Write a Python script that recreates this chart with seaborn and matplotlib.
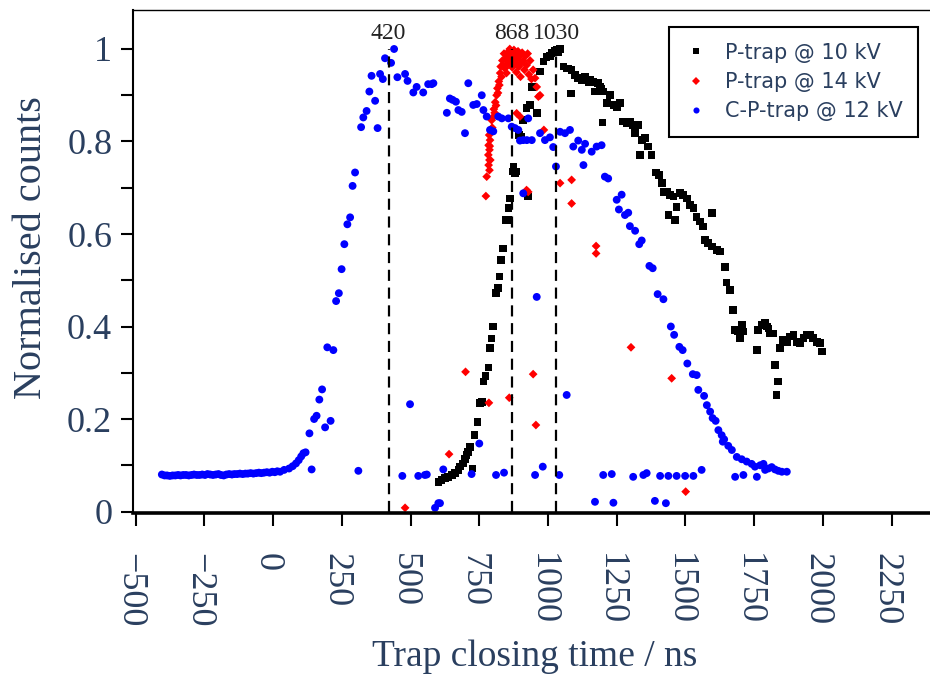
import matplotlib
matplotlib.use("Agg")
import matplotlib.pyplot as plt
from matplotlib.lines import Line2D
from matplotlib.transforms import ScaledTranslation
import pandas as pd
import seaborn as sns

# ---------------- data ----------------
series_names = ["P-trap @ 10 kV", "P-trap @ 14 kV", "C-P-trap @ 12 kV"]
series_colors = ["#000000", "#ff0000", "#0000ff"]
series_markers = ["s", "D", "o"]

ptrap10_t = [601, 613, 625, 637, 650, 662, 674, 680, 690, 698, 704, 710, 716, 726, 732, 744, 752, 759,
             765, 773, 783, 789, 795, 801, 811, 819, 823, 829, 837, 847, 855, 856, 862, 871, 874, 880,
             886, 895, 904, 910, 922, 934, 928, 941, 959, 971, 983, 995, 1007, 1013, 1025, 1032, 1037,
             1044, 1056, 1068, 1074, 1083, 1086, 1098, 1110, 1116, 1123, 1135, 1147, 1153, 1159, 1165,
             1171, 1183, 1189, 1195, 1199, 1201, 1214, 1226, 1238, 1250, 1262, 1274, 1286, 1298, 1310,
             1317, 1329, 1335, 1341, 1353, 1365, 1377, 1393, 1405, 1414, 1420, 1432, 1438, 1444, 1456,
             1462, 1468, 1480, 1492, 1505, 1517, 1529, 1541, 1553, 1565, 1571, 1583, 1596, 1596, 1614,
             1626, 1644, 1650, 1662, 1674, 1680, 1692, 1699, 1705, 1711, 1760, 1765, 1778, 1790, 1796,
             1802, 1808, 1814, 1820, 1826, 1832, 1838, 1844, 1856, 1869, 1881, 1893, 1905, 1917, 1929,
             1941, 1953, 1965, 1978, 1990, 1996]
ptrap10_y = [0.064, 0.068, 0.072, 0.075, 0.079, 0.083, 0.090, 0.097, 0.104, 0.113, 0.122, 0.129, 0.140,
             0.093, 0.165, 0.194, 0.235, 0.237, 0.281, 0.293, 0.311, 0.353, 0.374, 0.400, 0.472, 0.483,
             0.508, 0.544, 0.569, 0.630, 0.630, 0.656, 0.677, 0.735, 0.746, 0.731, 0.735, 0.814, 0.810,
             0.846, 0.872, 0.879, 0.681, 0.918, 0.861, 0.951, 0.973, 0.983, 0.985, 0.991, 0.996, 0.998,
             0.992, 1.000, 0.962, 0.958, 0.958, 0.904, 0.955, 0.944, 0.937, 0.937, 0.933, 0.940, 0.929,
             0.934, 0.929, 0.929, 0.908, 0.926, 0.918, 0.915, 0.841, 0.908, 0.883, 0.901, 0.879, 0.875,
             0.883, 0.843, 0.839, 0.843, 0.836, 0.818, 0.836, 0.771, 0.803, 0.807, 0.789, 0.771, 0.733,
             0.728, 0.710, 0.691, 0.691, 0.641, 0.684, 0.681, 0.630, 0.659, 0.688, 0.684, 0.677, 0.663,
             0.656, 0.637, 0.627, 0.616, 0.587, 0.580, 0.573, 0.645, 0.565, 0.562, 0.529, 0.495, 0.479,
             0.436, 0.392, 0.389, 0.374, 0.403, 0.389, 0.349, 0.392, 0.403, 0.407, 0.400, 0.396, 0.385,
             0.385, 0.385, 0.317, 0.252, 0.281, 0.353, 0.371, 0.367, 0.378, 0.382, 0.367, 0.364, 0.375,
             0.382, 0.382, 0.375, 0.367, 0.364, 0.346]

ptrap14_t = [480, 640, 700, 777, 774, 785, 786, 789, 784, 787, 783, 787, 784, 787, 790, 788,
             795, 797, 800, 803, 806, 808, 811, 813, 816, 818, 821, 823, 826, 828, 831, 834, 837,
             840, 843, 846, 849, 852, 855, 858, 861, 864, 867, 870, 873, 876, 879, 882, 885, 888,
             891, 894, 897, 900, 903, 906, 910, 914, 918, 922, 926, 930, 935, 940, 946, 953, 959,
             965, 971, 859, 886, 898, 922, 928, 946, 956, 985, 1044, 1086, 1086, 1175, 1175, 1302,
             1450, 1501]
ptrap14_y = [0.008, 0.124, 0.302, 0.724, 0.682, 0.235, 0.814, 0.803, 0.792, 0.782, 0.771, 0.760,
             0.749, 0.738, 0.760, 0.790, 0.846, 0.830, 0.853, 0.870, 0.862, 0.885, 0.878, 0.900,
             0.915, 0.905, 0.930, 0.922, 0.948, 0.962, 0.940, 0.975, 0.965, 0.990, 0.958, 0.978,
             0.948, 0.992, 0.968, 0.985, 1.000, 0.975, 0.995, 0.960, 0.985, 0.998, 0.970, 0.990,
             0.950, 0.978, 0.995, 0.962, 0.985, 0.940, 0.970, 0.992, 0.975, 0.955, 0.985, 0.965,
             0.990, 0.945, 0.975, 0.935, 0.955, 0.937, 0.918, 0.897, 0.900, 0.246, 0.861, 0.854,
             0.695, 0.691, 0.297, 0.187, 0.825, 0.710, 0.717, 0.666, 0.574, 0.558, 0.355, 0.288,
             0.043]

cptrap12_t = [-405, -395, -386, -376, -366, -356, -346, -337, -327, -317, -307, -297, -288, -278,
              -268, -258, -248, -239, -229, -219, -209, -199, -190, -180, -170, -160, -150, -141,
              -131, -121, -111, -101, -92, -82, -72, -62, -52, -43, -33, -23, -13, -3, 6, 15,
              25, 40, 58, 71, 83, 93, 102, 110, 118, 140, 132, 149, 158, 168, 178, 189, 209, 197,
              219, 229, 239, 249, 259, 270, 280, 289, 298, 310, 320, 328, 340, 350, 358, 371, 380,
              389, 399, 407, 429, 440, 452, 470, 480, 489, 498, 510, 522, 528, 546, 552, 559, 564,
              577, 583, 589, 601, 607, 619, 632, 643, 653, 665, 674, 686, 698, 710, 722, 728, 741,
              750, 759, 765, 777, 789, 801, 811, 819, 832, 840, 856, 868, 880, 892, 898, 910, 910,
              923, 928, 941, 953, 959, 971, 981, 989, 1007, 1019, 1029, 1041, 1044, 1062, 1068,
              1080, 1092, 1110, 1123, 1129, 1135, 1159, 1171, 1177, 1195, 1201, 1207, 1219, 1232,
              1238, 1250, 1258, 1268, 1280, 1292, 1298, 1310, 1317, 1332, 1341, 1347, 1359, 1369,
              1381, 1389, 1399, 1408, 1420, 1429, 1438, 1447, 1459, 1468, 1478, 1490, 1499, 1507,
              1527, 1529, 1541, 1547, 1559, 1568, 1578, 1590, 1599, 1610, 1620, 1632, 1636, 1641,
              1656, 1669, 1681, 1687, 1705, 1711, 1723, 1741, 1753, 1760, 1772, 1784, 1790, 1802,
              1814, 1826, 1838, 1851, 1869]
cptrap12_y = [0.080, 0.078, 0.078, 0.077, 0.078, 0.078, 0.079, 0.078, 0.079, 0.079, 0.078, 0.079,
              0.080, 0.079, 0.079, 0.080, 0.079, 0.081, 0.080, 0.079, 0.080, 0.081, 0.079, 0.078,
              0.080, 0.081, 0.080, 0.081, 0.081, 0.082, 0.081, 0.082, 0.082, 0.083, 0.082, 0.083,
              0.084, 0.083, 0.084, 0.085, 0.084, 0.086, 0.085, 0.087,
              0.086, 0.090, 0.093, 0.098, 0.104, 0.111, 0.119, 0.126, 0.128, 0.091, 0.169, 0.200,
              0.207, 0.242, 0.264, 0.182, 0.196, 0.355, 0.349, 0.455, 0.472, 0.524, 0.578, 0.621,
              0.636, 0.704, 0.733, 0.088, 0.831, 0.852, 0.866, 0.908, 0.942, 0.888, 0.829, 0.946,
              0.935, 0.980, 0.970, 1.000, 0.939, 0.077, 0.946, 0.931, 0.232, 0.906, 0.918, 0.077,
              0.906, 0.079, 0.080, 0.924, 0.924, 0.926, 0.008, 0.018, 0.018, 0.091, 0.862, 0.893,
              0.890, 0.886, 0.868, 0.864, 0.818, 0.926, 0.081, 0.879, 0.881, 0.147, 0.900, 0.868,
              0.854, 0.825, 0.822, 0.079, 0.854, 0.850, 0.084, 0.850, 0.832, 0.829, 0.825, 0.802,
              0.803, 0.688, 0.803, 0.850, 0.803, 0.079, 0.464, 0.818, 0.097, 0.803, 0.809, 0.788,
              0.746, 0.079, 0.821, 0.818, 0.252, 0.825, 0.789, 0.802, 0.782, 0.749, 0.795, 0.778,
              0.021, 0.789, 0.792, 0.079, 0.724, 0.720, 0.081, 0.019, 0.674, 0.653, 0.685, 0.641,
              0.646, 0.617, 0.075, 0.607, 0.578, 0.586, 0.079, 0.083, 0.531, 0.526, 0.023, 0.470,
              0.077, 0.459, 0.018, 0.077, 0.400, 0.382, 0.077, 0.356, 0.349, 0.077, 0.320, 0.297,
              0.077, 0.295, 0.263, 0.090, 0.250, 0.230, 0.216, 0.202, 0.196, 0.176, 0.165, 0.151,
              0.156, 0.142, 0.133, 0.075, 0.118, 0.113, 0.079, 0.108, 0.103, 0.097, 0.075, 0.100,
              0.103, 0.090, 0.093, 0.096, 0.091, 0.088, 0.086, 0.086]

peak_times = [420, 868, 1030]
peak_labels = ["420", "868", "1030"]

x_ticks = [-500, -250, 0, 250, 500, 750, 1000, 1250, 1500, 1750, 2000, 2250]
y_ticks = [0, 0.2, 0.4, 0.6, 0.8, 1]
y_tick_labels = ["0", "0.2", "0.4", "0.6", "0.8", "1"]
y_minor_ticks = [0.1, 0.3, 0.5, 0.7, 0.9]

# ---------------- styling ----------------
sns.set_style("ticks")
plt.rcParams["font.family"] = ["Liberation Serif", "DejaVu Serif"]
text_col = "#2a3f5f"

fig = plt.figure(figsize=(9.3, 6.82), dpi=100)
ax = fig.add_axes([133 / 930, 169 / 682, 797 / 930, 503 / 682])

frames = []
for name, t, y in zip(series_names,
                      [ptrap10_t, ptrap14_t, cptrap12_t],
                      [ptrap10_y, ptrap14_y, cptrap12_y]):
    frames.append(pd.DataFrame({"t": t, "counts": y, "series": name}))
df = pd.concat(frames, ignore_index=True)

marker_sizes = [30, 20, 32]
for name, col, mk, s in zip(series_names, series_colors, series_markers, marker_sizes):
    sub = df[df["series"] == name]
    sns.scatterplot(data=sub, x="t", y="counts", color=col, marker=mk, s=s,
                    linewidth=0, edgecolor="none", ax=ax, legend=False, zorder=2)

ax.vlines(peak_times, 0, 1.0, colors="black", linestyles=(0, (5, 3)),
          linewidth=1.6, zorder=3)
for t, lab in zip(peak_times, peak_labels):
    ax.text(t, 1.021, lab, ha="center", va="baseline", fontsize=17,
            color="#222222", family="Liberation Serif")

ax.set_xlim(-510, 2390)
ax.set_ylim(-0.0032, 1.0843)
ax.set_xticks(x_ticks)
ax.set_yticks(y_ticks)
ax.set_yticklabels(y_tick_labels)
ax.set_yticks(y_minor_ticks, minor=True)

ax.tick_params(axis="both", which="both", direction="out", length=9, width=1.5,
               color="black", labelsize=26, labelcolor=text_col)
ax.tick_params(axis="x", labelrotation=-90, pad=20)
ax.tick_params(axis="y", pad=6)

shift = ScaledTranslation(-6 / 100, 0, fig.dpi_scale_trans)
for lbl in ax.get_xticklabels():
    lbl.set_transform(lbl.get_transform() + shift)

for side, lw in [("left", 1.5), ("bottom", 2.6), ("top", 1.0)]:
    ax.spines[side].set_linewidth(lw)
    ax.spines[side].set_color("black")
ax.spines["right"].set_visible(False)

ax.set_xlabel("Trap closing time / ns", fontsize=27, color=text_col)
ax.xaxis.set_label_coords(0.504, -0.2505)
ax.set_ylabel("Normalised counts", fontsize=29, color=text_col)
ax.yaxis.set_label_coords(-0.104, 0.527)

handles = [Line2D([], [], marker=m, color=c, linestyle="none",
                  markersize=ms, markeredgewidth=0)
           for m, c, ms in zip(series_markers, series_colors, [4.6, 3.8, 4.4])]
leg = ax.legend(handles, series_names, loc="upper right", bbox_to_anchor=(0.985, 0.966),
                frameon=True, fancybox=False, edgecolor="black", framealpha=1,
                prop={"family": "DejaVu Sans", "size": 15}, labelcolor=text_col,
                borderaxespad=0, handlelength=1.0, handletextpad=0.9,
                labelspacing=0.45, borderpad=0.75)
leg.get_frame().set_linewidth(1.5)

fig.savefig("out.png", dpi=100)
